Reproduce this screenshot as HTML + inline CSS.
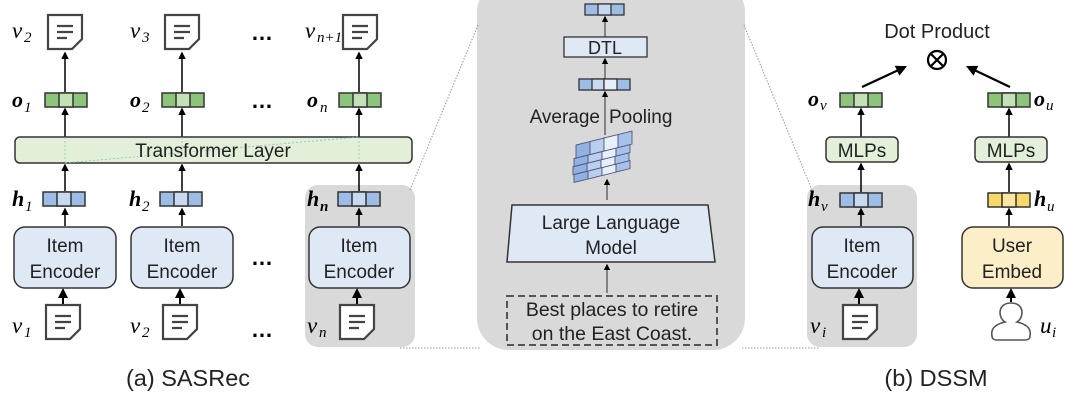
<!DOCTYPE html>
<html><head><meta charset="utf-8"><style>
html,body{margin:0;padding:0;background:#fff;}
svg{display:block;font-family:"Liberation Sans","DejaVu Sans",sans-serif;}
.m{font-family:"Liberation Serif",serif;font-style:italic;}
.b{font-family:"Liberation Serif",serif;font-style:italic;font-weight:bold;}
</style></head><body>
<svg width="1080" height="402" viewBox="0 0 1080 402" xmlns="http://www.w3.org/2000/svg">
<defs>
<marker id="ar" viewBox="0 0 10 10" refX="8" refY="5" markerWidth="5" markerHeight="5" orient="auto"><path d="M0,0 L10,5 L0,10 z" fill="#000"/></marker>
<g id="doc"><path d="M0,0 H34 V24 L24,34 H0 Z" fill="#fff" stroke="#444" stroke-width="2.2"/><path d="M9,11 H25 M9,17 H25 M9,23 H19" stroke="#444" stroke-width="2.2"/></g>
<g id="vg"><rect x="0" y="0" width="42" height="14" fill="#8bc47a" stroke="#333" stroke-width="1.5"/><rect x="14" y="0" width="14" height="14" fill="#c4e0b6" stroke="#333" stroke-width="1.5"/></g>
<g id="vb"><rect x="0" y="0" width="42" height="14" fill="#9dbde6" stroke="#333" stroke-width="1.5"/><rect x="14" y="0" width="14" height="14" fill="#c8daf1" stroke="#333" stroke-width="1.5"/></g>
<g id="vy"><rect x="0" y="0" width="42" height="14" fill="#f8d86a" stroke="#333" stroke-width="1.5"/><rect x="14" y="0" width="14" height="14" fill="#fbe7a2" stroke="#333" stroke-width="1.5"/></g>
</defs>

<rect x="305" y="185" width="110" height="162" rx="13" fill="#d9d9d9"/>
<rect x="807" y="185" width="110" height="162" rx="13" fill="#d9d9d9"/>
<rect x="477" y="-20" width="268" height="370" rx="32" fill="#d9d9d9"/>
<g stroke="#999" stroke-width="1" stroke-dasharray="1.5,1.5" fill="none">
<line x1="410" y1="190" x2="478" y2="25"/>
<line x1="400" y1="348" x2="480" y2="348"/>
<line x1="744" y1="25" x2="812" y2="190"/>
<line x1="742" y1="348" x2="820" y2="348"/>
</g>

<g font-size="23">
<text x="12" y="38" class="m">v</text><text x="24" y="42" font-size="15" class="m">2</text>
<text x="130" y="38" class="m">v</text><text x="142" y="42" font-size="15" class="m">3</text>
<text x="305" y="38" class="m">v</text><text x="317" y="42" font-size="15" class="m">n+1</text>
</g>
<use href="#doc" x="48" y="15"/><use href="#doc" x="165" y="15"/><use href="#doc" x="343" y="15"/>
<g font-size="22" font-weight="bold" text-anchor="middle">
<text x="262" y="40">…</text><text x="262" y="108">…</text><text x="262" y="265">…</text><text x="262" y="337">…</text>
</g>
<g stroke="#000" stroke-width="1.5" marker-end="url(#ar)">
<line x1="65" y1="92" x2="65" y2="53"/><line x1="182" y1="92" x2="182" y2="53"/><line x1="359" y1="92" x2="359" y2="53"/>
<line x1="65" y1="137" x2="65" y2="109"/><line x1="182" y1="137" x2="182" y2="109"/><line x1="359" y1="137" x2="359" y2="109"/>
<line x1="65" y1="191" x2="65" y2="165"/><line x1="182" y1="191" x2="182" y2="165"/><line x1="359" y1="191" x2="359" y2="165"/>
<line x1="65" y1="226" x2="65" y2="209"/><line x1="182" y1="226" x2="182" y2="209"/><line x1="359" y1="226" x2="359" y2="209"/>
<line x1="63" y1="304" x2="63" y2="290" stroke-width="2"/><line x1="180" y1="304" x2="180" y2="290" stroke-width="2"/><line x1="357" y1="304" x2="357" y2="290" stroke-width="2"/>
</g>
<use href="#vg" x="45" y="93"/><use href="#vg" x="162" y="93"/><use href="#vg" x="339" y="93"/>
<g font-size="22">
<text x="12" y="107" class="b">o</text><text x="24" y="112" font-size="15" class="m">1</text>
<text x="130" y="107" class="b">o</text><text x="142" y="112" font-size="15" class="m">2</text>
<text x="307" y="107" class="b">o</text><text x="320" y="112" font-size="15" class="m">n</text>
</g>
<rect x="15" y="137" width="397" height="26" rx="5" fill="#e2efd9" stroke="#333" stroke-width="1.5"/>
<g stroke="#9bb" stroke-width="0.8" stroke-dasharray="2,2"><line x1="65" y1="163" x2="359" y2="137"/><line x1="65" y1="137" x2="65" y2="163"/><line x1="182" y1="137" x2="182" y2="163"/><line x1="359" y1="137" x2="359" y2="163"/></g>
<text x="213" y="157" font-size="19" text-anchor="middle" fill="#222">Transformer Layer</text>
<use href="#vb" x="43" y="192"/><use href="#vb" x="160" y="192"/><use href="#vb" x="338" y="192"/>
<g font-size="22">
<text x="12" y="206" class="b">h</text><text x="25" y="211" font-size="15" class="m">1</text>
<text x="129" y="206" class="b">h</text><text x="142" y="211" font-size="15" class="m">2</text>
<text x="307" y="206" class="b">h</text><text x="320" y="211" font-size="15" class="b">n</text>
</g>
<g fill="#dfe9f6" stroke="#333" stroke-width="1.5">
<rect x="14" y="227" width="102" height="61" rx="11"/><rect x="131" y="227" width="102" height="61" rx="11"/><rect x="309" y="227" width="101" height="61" rx="11"/>
</g>
<g font-size="19" text-anchor="middle" fill="#222">
<text x="65" y="252">Item</text><text x="65" y="278">Encoder</text>
<text x="182" y="252">Item</text><text x="182" y="278">Encoder</text>
<text x="359" y="252">Item</text><text x="359" y="278">Encoder</text>
</g>
<use href="#doc" x="46" y="305"/><use href="#doc" x="163" y="305"/><use href="#doc" x="340" y="305"/>
<g font-size="23">
<text x="12" y="333" class="m">v</text><text x="24" y="337" font-size="15" class="m">1</text>
<text x="130" y="333" class="m">v</text><text x="142" y="337" font-size="15" class="m">2</text>
<text x="307" y="333" class="m">v</text><text x="319" y="337" font-size="15" class="m">n</text>
</g>
<text x="188" y="386" font-size="23.5" text-anchor="middle" fill="#222">(a) SASRec</text>

<g stroke="#555" stroke-width="1.3" marker-end="url(#ar)">
<line x1="605" y1="37" x2="605" y2="17"/><line x1="605" y1="79" x2="605" y2="59"/>
<line x1="605" y1="135" x2="605" y2="92"/><line x1="607" y1="200" x2="607" y2="180"/>
<line x1="607" y1="293" x2="607" y2="265"/>
</g>
<rect x="585" y="4" width="39" height="11" fill="#9dbde6" stroke="#333" stroke-width="1.3"/><rect x="598" y="4" width="13" height="11" fill="#c8daf1" stroke="#333" stroke-width="1.3"/>
<rect x="564" y="37" width="83" height="20" fill="#dfe9f6" stroke="#333" stroke-width="1.3"/>
<text x="605" y="54" font-size="18" text-anchor="middle" fill="#222">DTL</text>
<g stroke="#333" stroke-width="1.3"><rect x="579" y="79" width="51" height="11" fill="#9dbde6"/><rect x="592" y="79" width="12" height="11" fill="#c8daf1"/><rect x="604" y="79" width="13" height="11" fill="#e6eefa"/></g>
<text x="600" y="123" font-size="19" fill="#222" text-anchor="end">Average</text><text x="609" y="123" font-size="19" fill="#222">Pooling</text>
<g stroke="#557" stroke-width="0.9" transform="translate(576,180) skewY(-14)">
<g transform="translate(-2,-6)"><rect width="14" height="8" fill="#8fb2e2"/><rect x="14" width="14" height="8" fill="#b8cff0"/><rect x="28" width="14" height="8" fill="#e6f0fb"/><rect x="42" width="14" height="8" fill="#a6c2ea"/></g>
<g transform="translate(-3,-14)"><rect width="14" height="8" fill="#8fb2e2"/><rect x="14" width="14" height="8" fill="#b8cff0"/><rect x="28" width="14" height="8" fill="#e6f0fb"/><rect x="42" width="14" height="8" fill="#a6c2ea"/></g>
<g transform="translate(-2,-22)"><rect width="14" height="8" fill="#8fb2e2"/><rect x="14" width="14" height="8" fill="#b8cff0"/><rect x="28" width="14" height="8" fill="#e6f0fb"/><rect x="42" width="14" height="8" fill="#a6c2ea"/></g>
<g transform="translate(0,-35)"><rect width="14" height="13" fill="#8fb2e2"/><rect x="14" width="14" height="13" fill="#b8cff0"/><rect x="28" width="14" height="13" fill="#e6f0fb"/><rect x="42" width="14" height="13" fill="#a6c2ea"/></g>
</g>
<path d="M512,205 H708 L715,262 H507 Z" fill="#dfe9f6" stroke="#333" stroke-width="1.5"/>
<text x="611" y="229" font-size="19" text-anchor="middle" fill="#222">Large Language</text>
<text x="611" y="254" font-size="19" text-anchor="middle" fill="#222">Model</text>
<rect x="507" y="296" width="210" height="49" fill="none" stroke="#555" stroke-width="2" stroke-dasharray="7,4"/>
<text x="612" y="316" font-size="19.5" text-anchor="middle" fill="#222">Best places to retire</text>
<text x="612" y="340" font-size="19.5" text-anchor="middle" fill="#222">on the East Coast.</text>

<text x="937" y="38" font-size="20" text-anchor="middle" fill="#222">Dot Product</text>
<circle cx="937" cy="60" r="9" fill="none" stroke="#000" stroke-width="2.2"/>
<path d="M931,54 L943,66 M943,54 L931,66" stroke="#000" stroke-width="2.2"/>
<g stroke="#000" stroke-width="2.2" marker-end="url(#ar)">
<line x1="862" y1="87" x2="905" y2="67"/><line x1="1010" y1="87" x2="968" y2="67"/>
</g>
<use href="#vg" x="840" y="93"/><use href="#vg" x="988" y="93"/>
<text x="808" y="106" font-size="22" class="b">o</text><text x="820" y="110" font-size="15" class="m">v</text>
<text x="1034" y="106" font-size="22" class="b">o</text><text x="1046" y="110" font-size="15" class="m">u</text>
<g stroke="#000" stroke-width="1.5" marker-end="url(#ar)">
<line x1="861" y1="137" x2="861" y2="109"/><line x1="1009" y1="137" x2="1009" y2="109"/>
<line x1="861" y1="192" x2="861" y2="164"/><line x1="1009" y1="192" x2="1009" y2="164"/>
<line x1="861" y1="226" x2="861" y2="209"/><line x1="1009" y1="226" x2="1009" y2="209"/>
<line x1="859" y1="304" x2="859" y2="290" stroke-width="2"/><line x1="1011" y1="302" x2="1011" y2="290" stroke-width="2"/>
</g>
<rect x="826" y="137" width="72" height="25" rx="5" fill="#e2efd9" stroke="#333" stroke-width="1.5"/>
<rect x="975" y="137" width="72" height="25" rx="5" fill="#e2efd9" stroke="#333" stroke-width="1.5"/>
<text x="862" y="157" font-size="19" text-anchor="middle" fill="#222">MLPs</text>
<text x="1011" y="157" font-size="19" text-anchor="middle" fill="#222">MLPs</text>
<use href="#vb" x="840" y="193"/><use href="#vy" x="988" y="193"/>
<text x="808" y="206" font-size="22" class="b">h</text><text x="821" y="211" font-size="15" class="m">v</text>
<text x="1034" y="206" font-size="22" class="b">h</text><text x="1047" y="211" font-size="15" class="m">u</text>
<rect x="812" y="227" width="101" height="61" rx="11" fill="#dfe9f6" stroke="#333" stroke-width="1.5"/>
<rect x="962" y="227" width="101" height="61" rx="11" fill="#fcefc8" stroke="#333" stroke-width="1.5"/>
<g font-size="19" text-anchor="middle" fill="#222">
<text x="862" y="252">Item</text><text x="862" y="278">Encoder</text>
<text x="1012" y="252">User</text><text x="1012" y="278">Embed</text>
</g>
<use href="#doc" x="843" y="305"/>
<text x="810" y="333" font-size="23" class="m">v</text><text x="822" y="337" font-size="15" class="m">i</text>
<path d="M1005,322 C998,318 997,303 1011,303 C1025,303 1024,318 1017,322 C1030,325 1031,331 1030,336 C1030,339 1028,340 1024,340 H998 C994,340 992,339 992,336 C991,331 992,325 1005,322 Z" fill="#fff" stroke="#555" stroke-width="1.6"/>
<text x="1040" y="333" font-size="23" class="m">u</text><text x="1052" y="337" font-size="15" class="m">i</text>
<text x="936" y="386" font-size="23.5" text-anchor="middle" fill="#222">(b) DSSM</text>
</svg>
</body></html>
